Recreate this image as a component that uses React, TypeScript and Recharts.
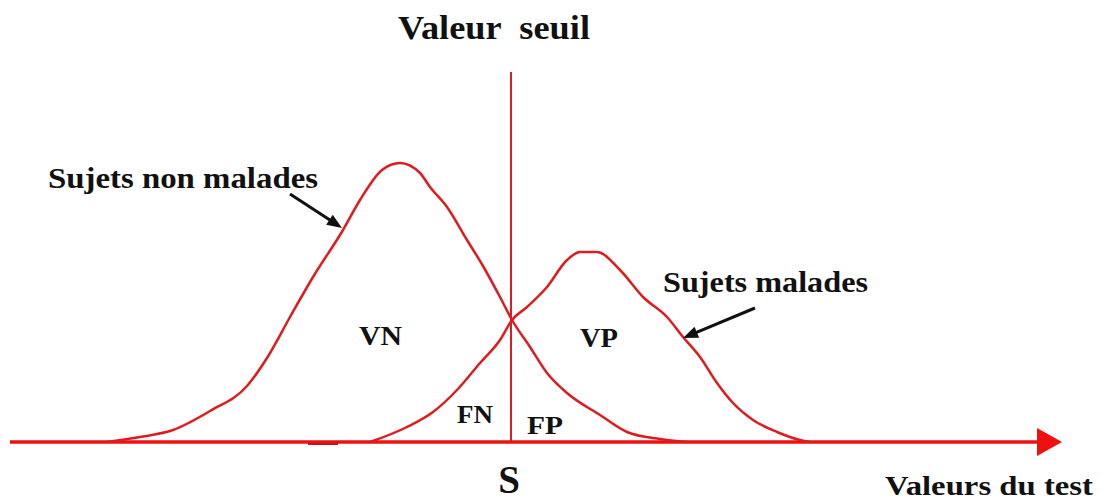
import { ComposedChart, Line, XAxis, YAxis, ReferenceLine } from "recharts";

// test values (x) and density (y)
const healthyTest = [10.7, 14.0, 17.3, 21.0, 24.7, 26.7, 29.0, 31.3, 34.3, 36.0, 38.2, 40.0, 42.0, 43.0, 44.7, 46.7, 48.3, 50.0, 51.2, 53.0, 54.7, 56.7, 60.0, 62.7, 66.0, 68.7];
const healthyDensity = [0, 5, 12, 31, 56, 84, 125, 165, 212, 242, 272, 279, 269, 255, 235, 202, 176, 145, 122, 95, 69, 49, 27, 10, 3, 0];

const sickTest = [37.0, 40.7, 43.3, 45.7, 48.0, 50.0, 51.2, 52.7, 54.7, 56.7, 58.0, 59.7, 62.0, 64.3, 66.7, 68.3, 70.0, 71.7, 73.3, 75.3, 77.7, 80.0, 81.0];
const sickDensity = [0, 15, 30, 52, 79, 102, 122, 135, 155, 182, 190, 190, 172, 145, 125, 105, 85, 59, 39, 22, 10, 2, 0];

const threshold = 51.1;
const thresholdTop = 370;
const axisRange = [1.0, 106.2];

const healthyData = healthyTest.map((x, i) => ({ x, y: healthyDensity[i] }));
const sickData = sickTest.map((x, i) => ({ x, y: sickDensity[i] }));

const CURVE = "#dd1c22";
const AXIS = "#f01010";
const FONT = "'Liberation Serif', 'Times New Roman', serif";

function arrowShape(color: string, width: number, headLen: number, headHalf: number) {
  return (props: any) => {
    const { x1, y1, x2, y2 } = props;
    const a = Math.atan2(y2 - y1, x2 - x1);
    const c = Math.cos(a);
    const s = Math.sin(a);
    const bx = x2 - headLen * c;
    const by = y2 - headLen * s;
    const pts = `${x2},${y2} ${bx - headHalf * s},${by + headHalf * c} ${bx + headHalf * s},${by - headHalf * c}`;
    return (
      <g>
        <line x1={x1} y1={y1} x2={bx + c} y2={by + s} stroke={color} strokeWidth={width} />
        <polygon points={pts} fill={color} />
      </g>
    );
  };
}

export default function App() {
  return (
    <div style={{ position: "absolute", left: 0, top: 0, width: 1102, height: 503, background: "#fff" }}>
      <ComposedChart width={1102} height={503} margin={{ top: 0, right: 0, bottom: 0, left: 0 }}>
        <XAxis type="number" dataKey="x" domain={[0, 110.2]} hide allowDataOverflow />
        <YAxis type="number" domain={[-61, 442]} hide allowDataOverflow />
        <ReferenceLine
          segment={[{ x: axisRange[0], y: 0 }, { x: axisRange[1], y: 0 }]}
          shape={arrowShape(AXIS, 3.5, 25, 14)}
          ifOverflow="visible"
        />
        {/* small smudge under the axis */}
        <ReferenceLine
          segment={[{ x: 30.8, y: -2 }, { x: 33.8, y: -2 }]}
          stroke="#c0161c"
          strokeWidth={2}
          ifOverflow="visible"
        />
        <ReferenceLine
          segment={[{ x: threshold, y: 0 }, { x: threshold, y: thresholdTop }]}
          stroke={CURVE}
          strokeWidth={2}
          ifOverflow="visible"
        />
        <Line
          data={healthyData}
          dataKey="y"
          type="monotone"
          stroke={CURVE}
          strokeWidth={2.5}
          dot={false}
          activeDot={false}
          isAnimationActive={false}
        />
        <Line
          data={sickData}
          dataKey="y"
          type="monotone"
          stroke={CURVE}
          strokeWidth={2.5}
          dot={false}
          activeDot={false}
          isAnimationActive={false}
        />
        <ReferenceLine
          segment={[{ x: 29.0, y: 248 }, { x: 34.2, y: 214 }]}
          shape={arrowShape("#111", 3, 15, 6)}
          ifOverflow="visible"
        />
        <ReferenceLine
          segment={[{ x: 75.5, y: 134 }, { x: 68.3, y: 104 }]}
          shape={arrowShape("#111", 3, 15, 6)}
          ifOverflow="visible"
        />
      </ComposedChart>
      <svg
        width={1102}
        height={503}
        style={{ position: "absolute", left: 0, top: 0, pointerEvents: "none" }}
        fontFamily={FONT}
        fontWeight="bold"
        fill="#111"
      >
        <text x={398} y={39} fontSize={34} textLength={192} lengthAdjust="spacingAndGlyphs" style={{ whiteSpace: "pre" }}>
          {"Valeur  seuil"}
        </text>
        <text x={48} y={188} fontSize={30} textLength={270} lengthAdjust="spacingAndGlyphs">
          Sujets non malades
        </text>
        <text x={663} y={292} fontSize={30} textLength={205} lengthAdjust="spacingAndGlyphs">
          Sujets malades
        </text>
        <text x={359} y={345} fontSize={28} textLength={43} lengthAdjust="spacingAndGlyphs">VN</text>
        <text x={580} y={347} fontSize={28} textLength={38} lengthAdjust="spacingAndGlyphs">VP</text>
        <text x={457} y={423} fontSize={26} textLength={36} lengthAdjust="spacingAndGlyphs">FN</text>
        <text x={527} y={434} fontSize={26} textLength={36} lengthAdjust="spacingAndGlyphs">FP</text>
        <text x={509} y={493} fontSize={39} textAnchor="middle">S</text>
        <text x={885} y={495} fontSize={28} textLength={208} lengthAdjust="spacingAndGlyphs">
          Valeurs du test
        </text>
      </svg>
    </div>
  );
}
